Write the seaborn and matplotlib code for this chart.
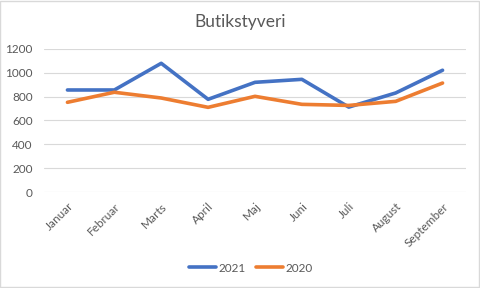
import matplotlib
matplotlib.use("Agg")
import matplotlib.pyplot as plt
import seaborn as sns
import pandas as pd

months = ["Januar", "Februar", "Marts", "April", "Maj", "Juni", "Juli", "August", "September"]
v2021 = [855, 855, 1078, 777, 919, 944, 712, 830, 1020]
v2020 = [752, 836, 788, 710, 802, 735, 726, 760, 913]
series = ["2021", "2020"]
colors = ["#4472C4", "#ED7D31"]

df = pd.DataFrame({
    "Måned": months * 2,
    "Værdi": v2021 + v2020,
    "Serie": [series[0]] * len(months) + [series[1]] * len(months),
})
df["x"] = list(range(len(months))) * 2

sns.set_theme(style="white")
plt.rcParams["font.family"] = ["Lato", "DejaVu Sans"]

fig = plt.figure(figsize=(4.8, 2.88), dpi=100)
ax = fig.add_axes([44/480, 1 - 192.3/288, 422/480, 143.6/288])

sns.lineplot(data=df, x="x", y="Værdi", hue="Serie", palette=colors,
             linewidth=2.6, ax=ax, legend=True, sort=False)

ax.set_xlim(-0.5, len(months) - 0.5)
ax.set_ylim(0, 1200)
ax.set_yticks(range(0, 1201, 200))
ax.set_xticks(range(len(months)))
ax.set_xticklabels(months, rotation=45, ha="right", rotation_mode="anchor")
ax.tick_params(axis="both", length=0, labelsize=8.5, colors="#595959")
ax.tick_params(axis="x", pad=6)
ax.tick_params(axis="y", pad=8)
ax.grid(axis="y", color="#D9D9D9", linewidth=0.8)
ax.set_axisbelow(True)
for s in ax.spines.values():
    s.set_visible(False)
ax.set_xlabel("")
ax.set_ylabel("")

ax.legend(loc="upper center", bbox_to_anchor=(0.5 - 4/422, -0.415), ncol=2, frameon=False,
          fontsize=8.5, handlelength=2.3, columnspacing=0.9, handletextpad=0.2,
          labelcolor="#595959")

fig.text(0.5, 1 - 22/288, "Butikstyveri", ha="center", va="center", fontsize=12.5, color="#595959")

fig.patches.append(matplotlib.patches.Rectangle((0.001, 0.002), 0.997, 0.995, transform=fig.transFigure,
                                                fill=False, edgecolor="#D9D9D9", linewidth=1))

fig.savefig("out.png", dpi=100)
